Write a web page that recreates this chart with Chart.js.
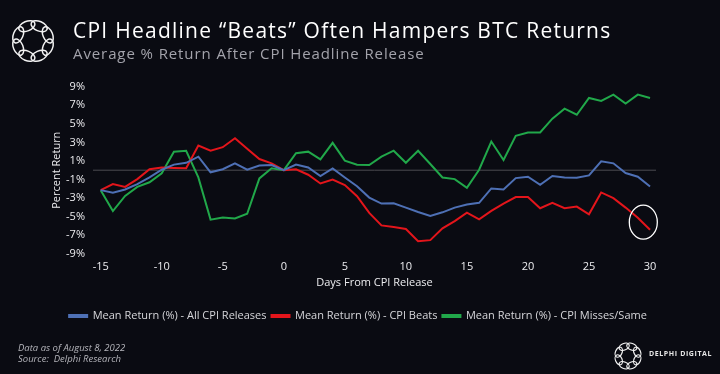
<!DOCTYPE html>
<html>
<head>
<meta charset="utf-8">
<script src="https://cdn.jsdelivr.net/npm/chart.js@4.4.0/dist/chart.umd.min.js"></script>
<style>
  html, body { margin: 0; padding: 0; background: #0a0b12; }
  #wrap { position: relative; width: 720px; height: 374px; overflow: hidden; background: #0a0b12; font-family: "Open Sans", "Noto Sans", sans-serif; }
  #chart { position: absolute; left: 0; top: 0; }
  .t { position: absolute; white-space: nowrap; }
  #title { left: 73px; top: 16px; font-size: 21px; letter-spacing: 1.25px; color: #ffffff; }
  #subtitle { left: 73px; top: 43px; font-size: 15px; letter-spacing: 0.9px; color: #a3a3ab; }
  #note { left: 18px; top: 343px; font-size: 9.5px; line-height: 10.5px; color: #b5b5bb; font-style: italic; }
  #brand { left: 649px; top: 349px; font-size: 7px; letter-spacing: 0.6px; font-weight: 700; color: #e6e6e6; }
  svg { position: absolute; overflow: visible; }
</style>
</head>
<body>
<div id="wrap">
  <canvas id="chart" width="720" height="374"></canvas>
  <svg id="logo1" width="60" height="60" style="left:3px;top:11px"></svg>
  <svg id="logo2" width="40" height="40" style="left:608px;top:336px"></svg>
  <div class="t" id="title">CPI Headline “Beats” Often Hampers BTC Returns</div>
  <div class="t" id="subtitle">Average % Return After CPI Headline Release</div>
  <div class="t" id="note">Data as of August 8, 2022<br>Source:&nbsp; Delphi Research</div>
  <div class="t" id="brand">DELPHI DIGITAL</div>
</div>
<script>
// ---- data ----
const days = [-15,-14,-13,-12,-11,-10,-9,-8,-7,-6,-5,-4,-3,-2,-1,0,1,2,3,4,5,6,7,8,9,10,11,12,13,14,15,16,17,18,19,20,21,22,23,24,25,26,27,28,29,30];
const allReleases = [-2.15,-2.44,-2.08,-1.5,-0.78,0.05,0.6,0.8,1.46,-0.23,0.1,0.74,0.05,0.5,0.55,
  0,0.6,0.3,-0.63,0.2,-0.78,-1.72,-2.95,-3.6,-3.56,-4.03,-4.5,-4.93,-4.54,-4.03,-3.7,
  -3.52,-1.97,-2.08,-0.85,-0.7,-1.57,-0.63,-0.78,-0.81,-0.56,0.96,0.74,-0.31,-0.7,-1.75];
const cpiBeats = [-2.15,-1.5,-1.8,-0.96,0.1,0.3,0.24,0.2,2.66,2.1,2.48,3.45,2.3,1.2,0.74,
  0,0.1,-0.49,-1.43,-1.0,-1.6,-2.8,-4.6,-5.95,-6.13,-6.34,-7.65,-7.54,-6.27,-5.48,-4.57,
  -5.3,-4.39,-3.6,-2.9,-2.9,-4.1,-3.52,-4.1,-3.92,-4.75,-2.4,-3.02,-4.03,-5.12,-6.42];
const cpiMisses = [-2.15,-4.4,-2.77,-1.8,-1.3,-0.34,2.0,2.1,-0.78,-5.33,-5.1,-5.2,-4.7,-0.88,0.2,
  0,1.83,2.0,1.17,2.95,1.03,0.6,0.56,1.46,2.1,0.8,2.1,0.67,-0.78,-0.96,-1.9,
  0.05,3.09,1.1,3.7,4.07,4.07,5.55,6.63,5.98,7.79,7.47,8.15,7.18,8.15,7.79];
const seriesNames = ["Mean Return (%) - All CPI Releases", "Mean Return (%) - CPI Beats", "Mean Return (%) - CPI Misses/Same"];
const xTicks = [-15,-10,-5,0,5,10,15,20,25,30];
const yTicks = [-9,-7,-5,-3,-1,1,3,5,7,9];
const highlight = {day: 29.45, value: -5.6};

// ---- logos ----
function drawLogo(id, cx, cy, r, rx, ry, sw) {
  const svg = document.getElementById(id);
  let s = '';
  for (let i = 0; i < 8; i++) {
    const a = i * 45 + 22.5;
    s += `<ellipse cx="${cx}" cy="${cy - r}" rx="${rx}" ry="${ry}" transform="rotate(${a} ${cx} ${cy})" fill="none" stroke="#f2f2f2" stroke-width="${sw}"/>`;
  }
  svg.innerHTML = s;
}
drawLogo('logo1', 30, 30, 16, 8.5, 4.8, 1.5);
drawLogo('logo2', 20, 20, 10, 5.3, 3.3, 1.2);

// ---- chart ----
const mk = (name, data, color) => ({
  label: name,
  data: days.map((d, i) => ({x: d, y: data[i]})),
  borderColor: color, backgroundColor: color,
  borderWidth: 2, pointRadius: 0, tension: 0, clip: false
});

const overlay = {
  id: 'overlay',
  beforeDatasetsDraw(chart) {
    const {ctx, chartArea, scales} = chart;
    const y0 = scales.y.getPixelForValue(0);
    ctx.save();
    ctx.strokeStyle = '#4c4c52';
    ctx.lineWidth = 1;
    ctx.beginPath();
    ctx.moveTo(chartArea.left, y0);
    ctx.lineTo(chartArea.right, y0);
    ctx.stroke();
    ctx.restore();
  },
  afterDatasetsDraw(chart) {
    const {ctx, scales} = chart;
    const cx = scales.x.getPixelForValue(highlight.day);
    const cy = scales.y.getPixelForValue(highlight.value);
    ctx.save();
    ctx.strokeStyle = '#ffffff';
    ctx.lineWidth = 1.3;
    ctx.beginPath();
    ctx.ellipse(cx, cy, 14, 17, 0, 0, Math.PI * 2);
    ctx.stroke();
    ctx.restore();
  }
};

const FONT = '"Open Sans", "Noto Sans", sans-serif';
new Chart(document.getElementById('chart'), {
  type: 'line',
  data: {
    datasets: [
      mk(seriesNames[0], allReleases, '#4e70b5'),
      mk(seriesNames[1], cpiBeats, '#e3151b'),
      mk(seriesNames[2], cpiMisses, '#21a84a')
    ]
  },
  options: {
    responsive: false,
    animation: false,
    layout: { padding: { top: 86.7, right: 64, bottom: 42.5, left: 60 } },
    plugins: {
      legend: {
        position: 'bottom',
        labels: {
          color: '#d6d6da', font: { family: FONT, size: 11 },
          boxWidth: 18, boxHeight: 2, padding: 5
        }
      },
      tooltip: { enabled: false }
    },
    scales: {
      x: {
        type: 'linear', min: -15.63, max: 30.49,
        afterBuildTicks: s => { s.ticks = xTicks.map(v => ({value: v})); },
        afterFit: s => { s.height = 51.8; },
        grid: { display: false, drawTicks: false },
        border: { display: false },
        ticks: { color: '#ececef', font: { family: FONT, size: 11 }, padding: 7, maxRotation: 0 },
        title: { display: true, text: 'Days From CPI Release', color: '#ececef', font: { family: FONT, size: 11 }, padding: { top: 0, bottom: 15.9 } }
      },
      y: {
        min: -9, max: 9,
        afterBuildTicks: s => { s.ticks = yTicks.map(v => ({value: v})); },
        afterFit: s => { s.width = 33; },
        grid: { display: false, drawTicks: false },
        border: { display: false },
        ticks: { color: '#ececef', font: { family: FONT, size: 11 }, padding: 8, callback: v => v + '%' },
        title: { display: true, text: 'Percent Return', color: '#ececef', font: { family: FONT, size: 11 }, padding: { top: -9.6, bottom: 0 } }
      }
    }
  },
  plugins: [overlay]
});
</script>
</body>
</html>
